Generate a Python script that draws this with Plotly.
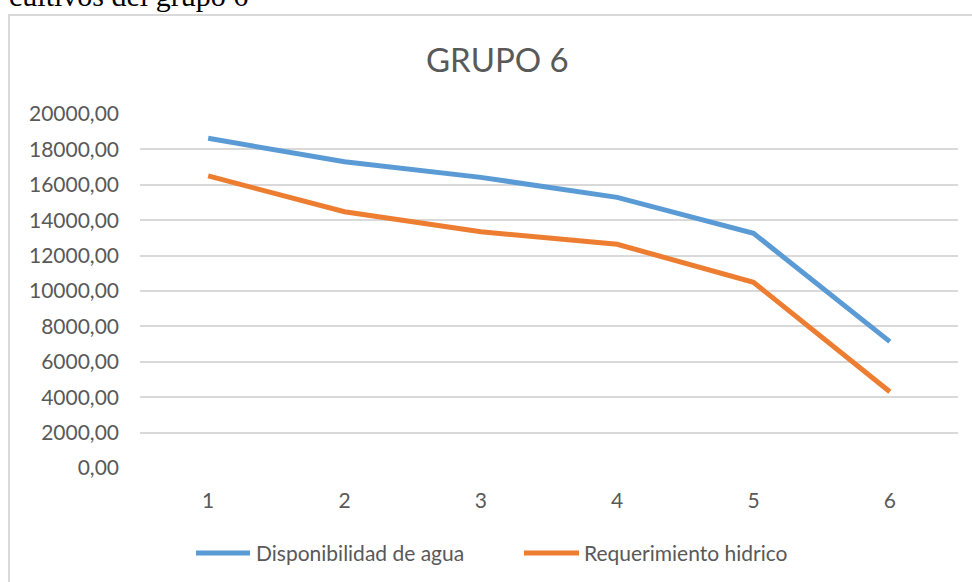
import plotly.graph_objects as go

# Data
categorias = [1, 2, 3, 4, 5, 6]
disponibilidad_agua = [18630, 17300, 16420, 15290, 13260, 7140]
requerimiento_hidrico = [16500, 14480, 13350, 12640, 10490, 4310]
y_ticks = [0, 2000, 4000, 6000, 8000, 10000, 12000, 14000, 16000, 18000, 20000]
y_tick_labels = [f"{v:,.2f}".replace(",", "X").replace(".", ",").replace("X", "") for v in y_ticks]

W, H = 972, 582
L, R, T, B = 140, 958, 114, 468  # plot area in pixels


def px(x):
    return (x - L) / (R - L)


def py(y):
    return (B - y) / (B - T)


BLUE = "#5B9BD5"
ORANGE = "#ED7D31"
GRID = "#D9D9D9"
TEXT = "#595959"
FONT = "Lato"

fig = go.Figure()
fig.add_trace(go.Scatter(x=categorias, y=disponibilidad_agua, mode="lines",
                         line=dict(color=BLUE, width=5), name="Disponibilidad de agua"))
fig.add_trace(go.Scatter(x=categorias, y=requerimiento_hidrico, mode="lines",
                         line=dict(color=ORANGE, width=5), name="Requerimiento hidrico"))

fig.update_layout(
    width=W, height=H,
    margin=dict(l=L, r=W - R, t=T, b=H - B),
    paper_bgcolor="white", plot_bgcolor="white",
    showlegend=False,
    font=dict(family=FONT, color=TEXT),
)
fig.update_xaxes(
    range=[0.5, 6.5], tickvals=categorias, ticktext=[str(c) for c in categorias],
    showgrid=False, zeroline=False, showline=False,
    tickfont=dict(size=21, color=TEXT, family=FONT), ticklabelstandoff=18,
    fixedrange=True,
)
fig.update_yaxes(
    range=[0, 20000], tickvals=y_ticks, ticktext=y_tick_labels,
    showgrid=True, gridcolor=GRID, gridwidth=1.5, zeroline=False, showline=False,
    tickfont=dict(size=21, color=TEXT, family=FONT), ticklabelstandoff=20,
    fixedrange=True,
)

shapes = [
    # chart frame
    dict(type="rect", xref="paper", yref="paper",
         x0=px(9), x1=px(W + 20), y0=py(15), y1=py(H + 20),
         line=dict(color=GRID, width=2), fillcolor="rgba(0,0,0,0)", layer="below"),
    # legend keys
    dict(type="line", xref="paper", yref="paper", x0=px(196), x1=px(250),
         y0=py(553), y1=py(553), line=dict(color=BLUE, width=5)),
    dict(type="line", xref="paper", yref="paper", x0=px(524), x1=px(579),
         y0=py(553), y1=py(553), line=dict(color=ORANGE, width=5)),
]

annotations = [
    dict(text="GRUPO 6", xref="paper", yref="paper", x=px(497.5), y=py(59),
         xanchor="center", yanchor="middle", showarrow=False,
         font=dict(size=33, color=TEXT, family=FONT)),
    dict(text="Disponibilidad de agua", xref="paper", yref="paper", x=px(254), y=py(552),
         xanchor="left", yanchor="middle", showarrow=False,
         font=dict(size=21, color=TEXT, family=FONT)),
    dict(text="Requerimiento hidrico", xref="paper", yref="paper", x=px(582), y=py(552),
         xanchor="left", yanchor="middle", showarrow=False,
         font=dict(size=21, color=TEXT, family=FONT)),
    dict(text="cultivos del grupo 6", xref="paper", yref="paper", x=px(250), y=py(14),
         xanchor="right", yanchor="bottom", showarrow=False,
         font=dict(size=30, color="black", family="Liberation Serif")),
]

fig.update_layout(shapes=shapes, annotations=annotations)
fig.write_html("out.html")
